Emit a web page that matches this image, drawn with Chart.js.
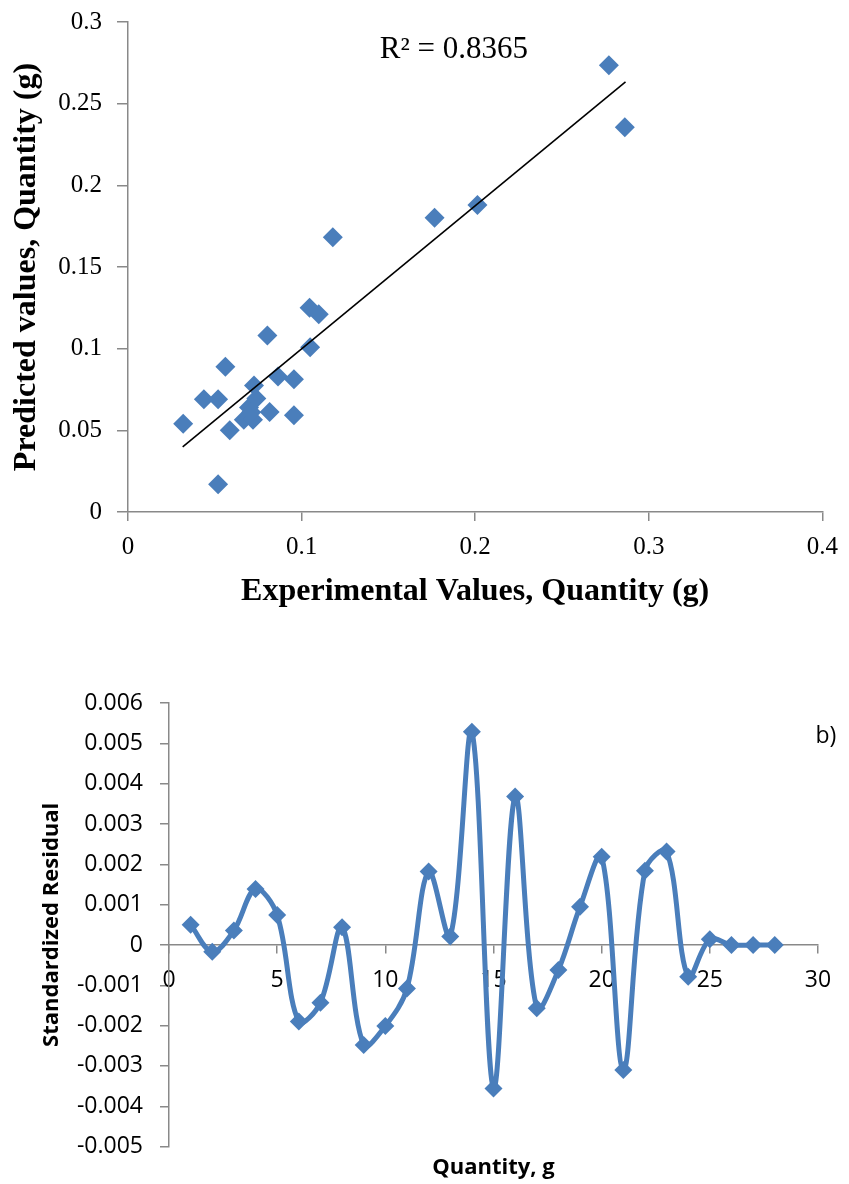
<!DOCTYPE html>
<html>
<head>
<meta charset="utf-8">
<script src="https://cdn.jsdelivr.net/npm/chart.js@4.4.1/dist/chart.umd.min.js"></script>
<style>
body{margin:0;background:#fff;overflow:hidden;}
#top{position:absolute;left:0;top:-8px;}
#bot{position:absolute;left:0;top:660px;}
</style>
</head>
<body>
<canvas id="top" width="849" height="648"></canvas>
<canvas id="bot" width="849" height="524"></canvas>
<script>
// a) experimental vs predicted
var expX=[0.0318,0.0437,0.0519,0.0561,0.0519,0.0586,0.0667,0.0720,0.0697,0.0739,0.0726,0.0710,0.0803,0.0816,0.0864,0.0956,0.0956,0.1049,0.1046,0.1099,0.1180,0.1766,0.2013,0.2770,0.2862];
var predY=[0.0540,0.0690,0.0690,0.0890,0.0170,0.0500,0.0565,0.0565,0.0640,0.0695,0.0775,0.0610,0.1080,0.0612,0.0830,0.0812,0.0592,0.1008,0.1250,0.1210,0.1682,0.1802,0.1879,0.2735,0.2355];
var trendX=[0.0315,0.2866];
var trendY=[0.0399,0.2633];
var rLabel="R² = 0.8365";
var topXTicks=["0","0.1","0.2","0.3","0.4"];
var topYTicks=["0","0.05","0.1","0.15","0.2","0.25","0.3"];

// b) residuals
var qty=[1,2,3,4,5,6,7,8,9,10,11,12,13,14,15,16,17,18,19,20,21,22,23,24,25,26,27,28];
var resid=[0.0005,-0.00017,0.00036,0.00139,0.00074,-0.0019,-0.00143,0.00044,-0.00248,-0.00201,-0.00108,0.00182,0.00021,0.00529,-0.00356,0.00368,-0.00157,-0.00062,0.00095,0.00219,-0.0031,0.00184,0.00232,-0.00079,0.00014,0,0,0];
var botXTicks=["0","5","10","15","20","25","30"];
var botYTicks=["-0.005","-0.004","-0.003","-0.002","-0.001","0","0.001","0.002","0.003","0.004","0.005","0.006"];

var blue="#4a7ebb";
var axisGrey="#898989";
var serif="'Liberation Serif', 'Times New Roman', serif";
var sans="'Open Sans', sans-serif";

var pts=[];
for(var i=0;i<expX.length;i++) pts.push({x:expX[i],y:predY[i]});
var trend=[];
for(var i=0;i<trendX.length;i++) trend.push({x:trendX[i],y:trendY[i]});

var rPlugin={
    id:'rlabel',
    afterDatasetsDraw:function(chart){
        var c=chart.ctx;
        c.save();
        c.font="31px "+serif;
        c.fillStyle="#000";
        c.textAlign="center";
        c.textBaseline="middle";
        c.fillText(rLabel,chart.scales.x.getPixelForValue(0.1877),chart.scales.y.getPixelForValue(0.2827));
        c.restore();
    }
};

new Chart(document.getElementById('top'),{
    type:'scatter',
    data:{datasets:[
        {data:trend,showLine:true,borderColor:'#000',borderWidth:1.6,pointRadius:0,order:0},
        {data:pts,pointStyle:'rectRot',pointRadius:10,pointBackgroundColor:blue,pointBorderColor:blue,pointBorderWidth:0,order:1}
    ]},
    options:{
        responsive:false,animation:false,
        layout:{padding:{top:22,right:25,left:0,bottom:0}},
        plugins:{legend:{display:false},tooltip:{enabled:false}},
        scales:{
            x:{type:'linear',min:0,max:0.4,
                ticks:{stepSize:0.1,color:'#000',font:{family:serif,size:25},padding:11,
                    callback:function(v,i){return topXTicks[i];}},
                grid:{drawOnChartArea:false,drawTicks:true,tickLength:9,color:axisGrey,lineWidth:1.5},
                border:{color:axisGrey,width:1.5},
                title:{display:true,text:'Experimental Values, Quantity (g)',color:'#000',
                    font:{family:serif,size:32,weight:'bold'},padding:{top:0,bottom:29}},
                afterFit:function(s){s.height=128;}
            },
            y:{type:'linear',min:0,max:0.3,
                ticks:{stepSize:0.05,color:'#000',font:{family:serif,size:25},padding:15,
                    callback:function(v,i){return topYTicks[i];}},
                grid:{drawOnChartArea:false,drawTicks:true,tickLength:11,color:axisGrey,lineWidth:1.5},
                border:{color:axisGrey,width:1.5},
                title:{display:true,text:'Predicted values, Quantity (g)',color:'#000',
                    font:{family:serif,size:32,weight:'bold'},padding:{top:8,bottom:0}},
                afterFit:function(s){s.width=128;}
            }
        }
    },
    plugins:[rPlugin]
});

var bPlugin={
    id:'blabel',
    afterDatasetsDraw:function(chart){
        var c=chart.ctx;
        c.save();
        c.font="23px "+sans;
        c.fillStyle="#000";
        c.textAlign="left";
        c.textBaseline="middle";
        c.fillText("b)",chart.scales.x.getPixelForValue(29.88),chart.scales.y.getPixelForValue(0.00516));
        c.restore();
    }
};

new Chart(document.getElementById('bot'),{
    type:'line',
    data:{datasets:[{
        data:qty.map(function(q,i){return {x:q,y:resid[i]};}),
        borderColor:blue,borderWidth:5,tension:0.35,cubicInterpolationMode:'default',
        pointStyle:'rectRot',pointRadius:9,pointBackgroundColor:blue,pointBorderColor:blue,pointBorderWidth:0,
        fill:false
    }]},
    options:{
        responsive:false,animation:false,
        layout:{padding:{top:43,right:31,left:0,bottom:0}},
        plugins:{legend:{display:false},tooltip:{enabled:false},
            title:{display:true,position:'bottom',fullSize:false,text:'Quantity, g',color:'#000',
                font:{family:sans,size:22,weight:'bold'},padding:{top:8,bottom:3}}
        },
        scales:{
            x:{type:'linear',min:0,max:30,position:{y:0},
                ticks:{stepSize:5,color:'#000',font:{family:sans,size:23},padding:14,maxRotation:0,
                    callback:function(v,i){return botXTicks[i];}},
                grid:{drawOnChartArea:false,drawTicks:true,tickLength:8,color:axisGrey,lineWidth:1.5},
                border:{color:axisGrey,width:1.5}
            },
            y:{type:'linear',min:-0.005,max:0.006,
                ticks:{stepSize:0.001,color:'#000',font:{family:sans,size:23},padding:17,
                    callback:function(v,i){return botYTicks[i];}},
                grid:{drawOnChartArea:false,drawTicks:true,tickLength:9,color:axisGrey,lineWidth:1.5},
                border:{color:axisGrey,width:1.5},
                title:{display:true,text:'Standardized Residual',color:'#000',
                    font:{family:sans,size:22,weight:'bold'},padding:{top:39,bottom:0}},
                afterFit:function(s){s.width=169;}
            }
        }
    },
    plugins:[bPlugin]
});
</script>
</body>
</html>
